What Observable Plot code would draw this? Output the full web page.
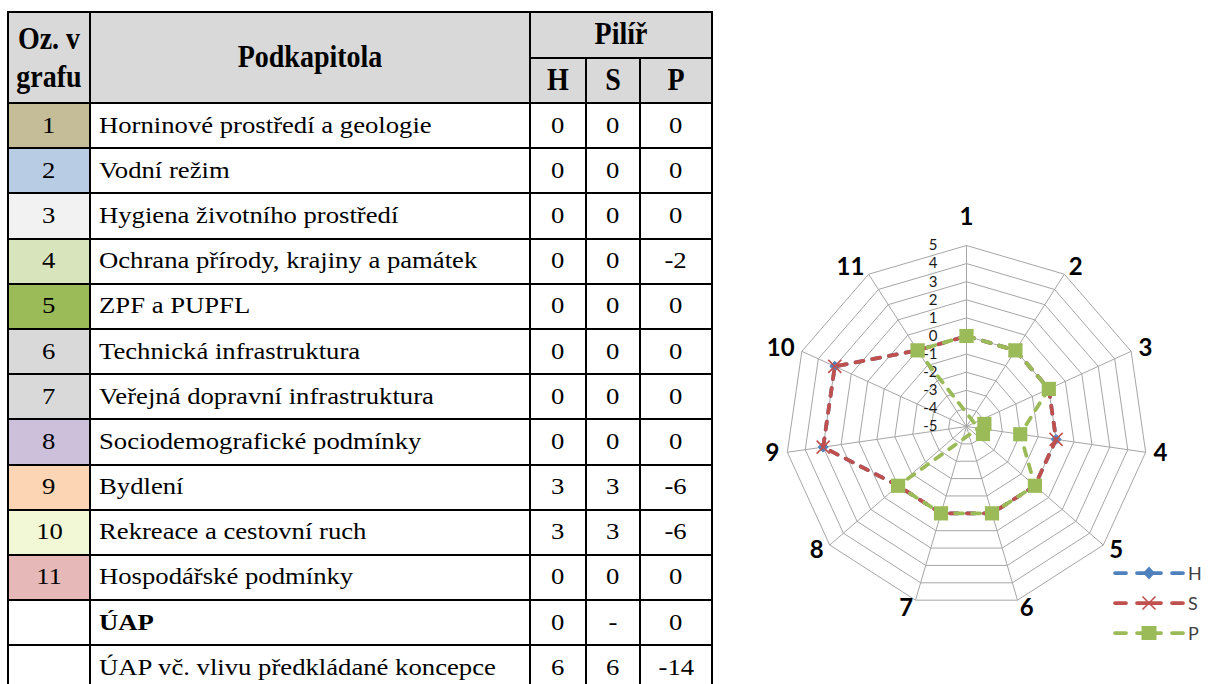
<!DOCTYPE html>
<html><head><meta charset="utf-8">
<script src="https://cdn.jsdelivr.net/npm/d3@7"></script>
<script src="https://cdn.jsdelivr.net/npm/@observablehq/plot@0.6"></script>
<style>
html,body{margin:0;padding:0;background:#fff;}
#root{position:relative;width:1216px;height:684px;overflow:hidden;background:#fff;}
#tbl{position:absolute;left:7px;top:11px;border-collapse:collapse;table-layout:fixed;width:706px;font-family:"Liberation Serif","Times New Roman",serif;color:#000;}
#tbl td,#tbl th{border:2px solid #000;padding:0;overflow:hidden;white-space:nowrap;vertical-align:middle;text-align:center;}
#tbl th{background:#d9d9d9;font-weight:bold;font-size:28px;}
#tbl td{font-size:23px;}
#tbl td.name{text-align:left;padding-left:8px;}
#tbl tr.h{height:45.5px;}
#tbl tr.d{height:45.2px;}
.sx{display:inline-block;transform:scaleX(1.16);}
.name .sx{transform-origin:0 50%;}
.sy{display:inline-block;transform:scaleY(1.15);line-height:32.6px;}
#chart{position:absolute;left:720px;top:0;}
#legend{position:absolute;left:1113px;top:558.5px;font-family:Lato,"Open Sans",sans-serif;font-size:18px;color:#404040;}
.lg{display:flex;align-items:center;height:29.7px;}
.lg span{margin-left:3px;}
</style></head>
<body><div id="root"></div>
<script>
// ---- data ----
const categories = ["1","2","3","4","5","6","7","8","9","10","11"];
const subchapters = ["Horninové prostředí a geologie","Vodní režim","Hygiena životního prostředí","Ochrana přírody, krajiny a památek","ZPF a PUPFL","Technická infrastruktura","Veřejná dopravní infrastruktura","Sociodemografické podmínky","Bydlení","Rekreace a cestovní ruch","Hospodářské podmínky"];
const categoryColors = ["#c4bd97","#b8cce4","#f2f2f2","#d7e4bc","#9bbb59","#d9d9d9","#d9d9d9","#ccc0da","#fcd5b4","#f2f8d6","#e6b9b8"];
const valuesH = [0,0,0,0,0,0,0,0,3,3,0];
const valuesS = [0,0,0,0,0,0,0,0,3,3,0];
const valuesP = [0,0,0,-2,0,0,0,0,-6,-6,0];
const summaryLabels = ["ÚAP","ÚAP vč. vlivu předkládané koncepce"];
const summaryBold = [true,false];
const summaryH = ["0","6"];
const summaryS = ["-","6"];
const summaryP = ["0","-14"];
const seriesNames = ["H","S","P"];
const seriesColors = ["#4f81bd","#c0504d","#9bbb59"];
const axisTicks = [-5,-4,-3,-2,-1,0,1,2,3,4,5];
const headerFirst = ["Oz. v","grafu"];
const headerSecond = "Podkapitola";
const headerGroup = "Pilíř";

const root = document.getElementById("root");

// ---- table ----
const tbl = document.createElement("table");
tbl.id = "tbl";
const cg = document.createElement("colgroup");
[82,440,56,54,72].forEach(w => { const c = document.createElement("col"); c.style.width = w + "px"; cg.appendChild(c); });
tbl.appendChild(cg);
const mk = (tag, html, cls) => { const e = document.createElement(tag); e.innerHTML = html; if (cls) e.className = cls; return e; };
const tr1 = document.createElement("tr"); tr1.className = "h";
const th1 = mk("th", `<span class="sy">${headerFirst.join("<br>")}</span>`); th1.rowSpan = 2; tr1.appendChild(th1);
const th2 = mk("th", `<span class="sy">${headerSecond}</span>`); th2.rowSpan = 2; tr1.appendChild(th2);
const th3 = mk("th", `<span class="sy">${headerGroup}</span>`); th3.colSpan = 3; tr1.appendChild(th3);
tbl.appendChild(tr1);
const tr2 = document.createElement("tr"); tr2.className = "h";
seriesNames.forEach(s => tr2.appendChild(mk("th", `<span class="sy">${s}</span>`)));
tbl.appendChild(tr2);
const sx = t => `<span class="sx">${t}</span>`;
categories.forEach((c, i) => {
  const tr = document.createElement("tr"); tr.className = "d";
  const a = mk("td", sx(c)); a.style.background = categoryColors[i]; tr.appendChild(a);
  tr.appendChild(mk("td", sx(subchapters[i]), "name"));
  tr.appendChild(mk("td", sx(valuesH[i])));
  tr.appendChild(mk("td", sx(valuesS[i])));
  tr.appendChild(mk("td", sx(valuesP[i])));
  tbl.appendChild(tr);
});
summaryLabels.forEach((l, i) => {
  const tr = document.createElement("tr"); tr.className = "d";
  tr.appendChild(mk("td", ""));
  tr.appendChild(mk("td", sx(summaryBold[i] ? `<b>${l}</b>` : l), "name"));
  tr.appendChild(mk("td", sx(summaryH[i])));
  tr.appendChild(mk("td", sx(summaryS[i])));
  tr.appendChild(mk("td", sx(summaryP[i])));
  tbl.appendChild(tr);
});
root.appendChild(tbl);

// ---- radar ----
const n = categories.length;
const rMin = d3.min(axisTicks), rMax = d3.max(axisTicks);
const ang = i => i * 2 * Math.PI / n;
const pol = (v, i) => ({x: (v - rMin) * Math.sin(ang(i)), y: (v - rMin) * Math.cos(ang(i)), i});
const W = 496, HT = 684, pxPerUnit = 18.1, cx = 246, cy = 426;

const rings = axisTicks.slice(1).flatMap(l => d3.range(n + 1).map(j => ({level: l, ...pol(l, j % n)})));
const spokes = categories.map((c, i) => { const a = pol(rMin, i), b = pol(rMax, i); return {x1: a.x, y1: a.y, x2: b.x, y2: b.y}; });
const pathPts = vals => d3.range(n + 1).map(j => pol(vals[j % n], j % n));
const dotPts = vals => vals.map((v, i) => pol(v, i));
const labelR = rMax + 8 / pxPerUnit;
const labels = categories.map((c, i) => ({label: c, ...pol(labelR, i), s: Math.sin(ang(i))}));
const dash = "8,9";
const lineOpts = (color) => ({x: "x", y: "y", stroke: color, strokeWidth: 3.75, strokeDasharray: dash, strokeLinecap: "round", strokeLinejoin: "round"});

const chart = Plot.plot({
  width: W, height: HT, margin: 0,
  x: {domain: [-cx / pxPerUnit, (W - cx) / pxPerUnit], axis: null},
  y: {domain: [-(HT - cy) / pxPerUnit, cy / pxPerUnit], axis: null},
  style: {fontFamily: "Lato, 'Open Sans', sans-serif", background: "transparent", overflow: "visible"},
  marks: [
    Plot.line(rings, {x: "x", y: "y", z: "level", stroke: "#a6a6a6", strokeWidth: 1}),
    Plot.link(spokes, {x1: "x1", y1: "y1", x2: "x2", y2: "y2", stroke: "#a6a6a6", strokeWidth: 1}),
    Plot.text(axisTicks, {x: t => pol(t, 0).x, y: t => pol(t, 0).y, text: t => String(t), textAnchor: "end", dx: -29, fontSize: 15, fill: "#1a1a1a"}),
    Plot.line(pathPts(valuesH), lineOpts(seriesColors[0])),
    Plot.dot(dotPts(valuesH), {x: "x", y: "y", symbol: "diamond2", r: 4.5, fill: seriesColors[0], stroke: seriesColors[0], strokeWidth: 1}),
    Plot.line(pathPts(valuesS), lineOpts(seriesColors[1])),
    Plot.dot(dotPts(valuesS), {x: "x", y: "y", symbol: "times", r: 6, stroke: seriesColors[1], strokeWidth: 1.6}),
    Plot.line(pathPts(valuesP), lineOpts(seriesColors[2])),
    Plot.dot(dotPts(valuesP), {x: "x", y: "y", symbol: "square", r: 8, fill: seriesColors[2], stroke: "none"}),
    Plot.text(labels.filter(d => d.s > 0.01), {x: "x", y: "y", text: "label", textAnchor: "start", fontSize: 24, fontWeight: "bold", fill: "#000"}),
    Plot.text(labels.filter(d => d.s < -0.01), {x: "x", y: "y", text: "label", textAnchor: "end", fontSize: 24, fontWeight: "bold", fill: "#000"}),
    Plot.text(labels.filter(d => Math.abs(d.s) <= 0.01), {x: "x", y: "y", text: "label", textAnchor: "middle", dy: -20, fontSize: 24, fontWeight: "bold", fill: "#000"})
  ]
});
chart.id = "chart";
root.appendChild(chart);

// ---- legend ----
const legend = document.createElement("div");
legend.id = "legend";
const markerSvg = (i, c) => {
  if (i === 0) return `<path d="M36,1.5 L42,8 L36,14.5 L30,8 Z" fill="${c}"/>`;
  if (i === 1) return `<path d="M29.5,1.5 L42.5,14.5 M42.5,1.5 L29.5,14.5" stroke="${c}" stroke-width="1.6"/>`;
  return `<rect x="28.5" y="1" width="15" height="14" fill="${c}"/>`;
};
seriesNames.forEach((s, i) => {
  const c = seriesColors[i];
  const row = document.createElement("div");
  row.className = "lg";
  row.innerHTML = `<svg width="72" height="16" viewBox="0 0 72 16">
    <g stroke="${c}" stroke-width="3.75" stroke-linecap="round">
      <line x1="2" y1="8" x2="13" y2="8"/><line x1="24" y1="8" x2="48" y2="8"/><line x1="59" y1="8" x2="70" y2="8"/>
    </g>${markerSvg(i, c)}</svg><span>${s}</span>`;
  legend.appendChild(row);
});
root.appendChild(legend);
</script>
</body></html>
